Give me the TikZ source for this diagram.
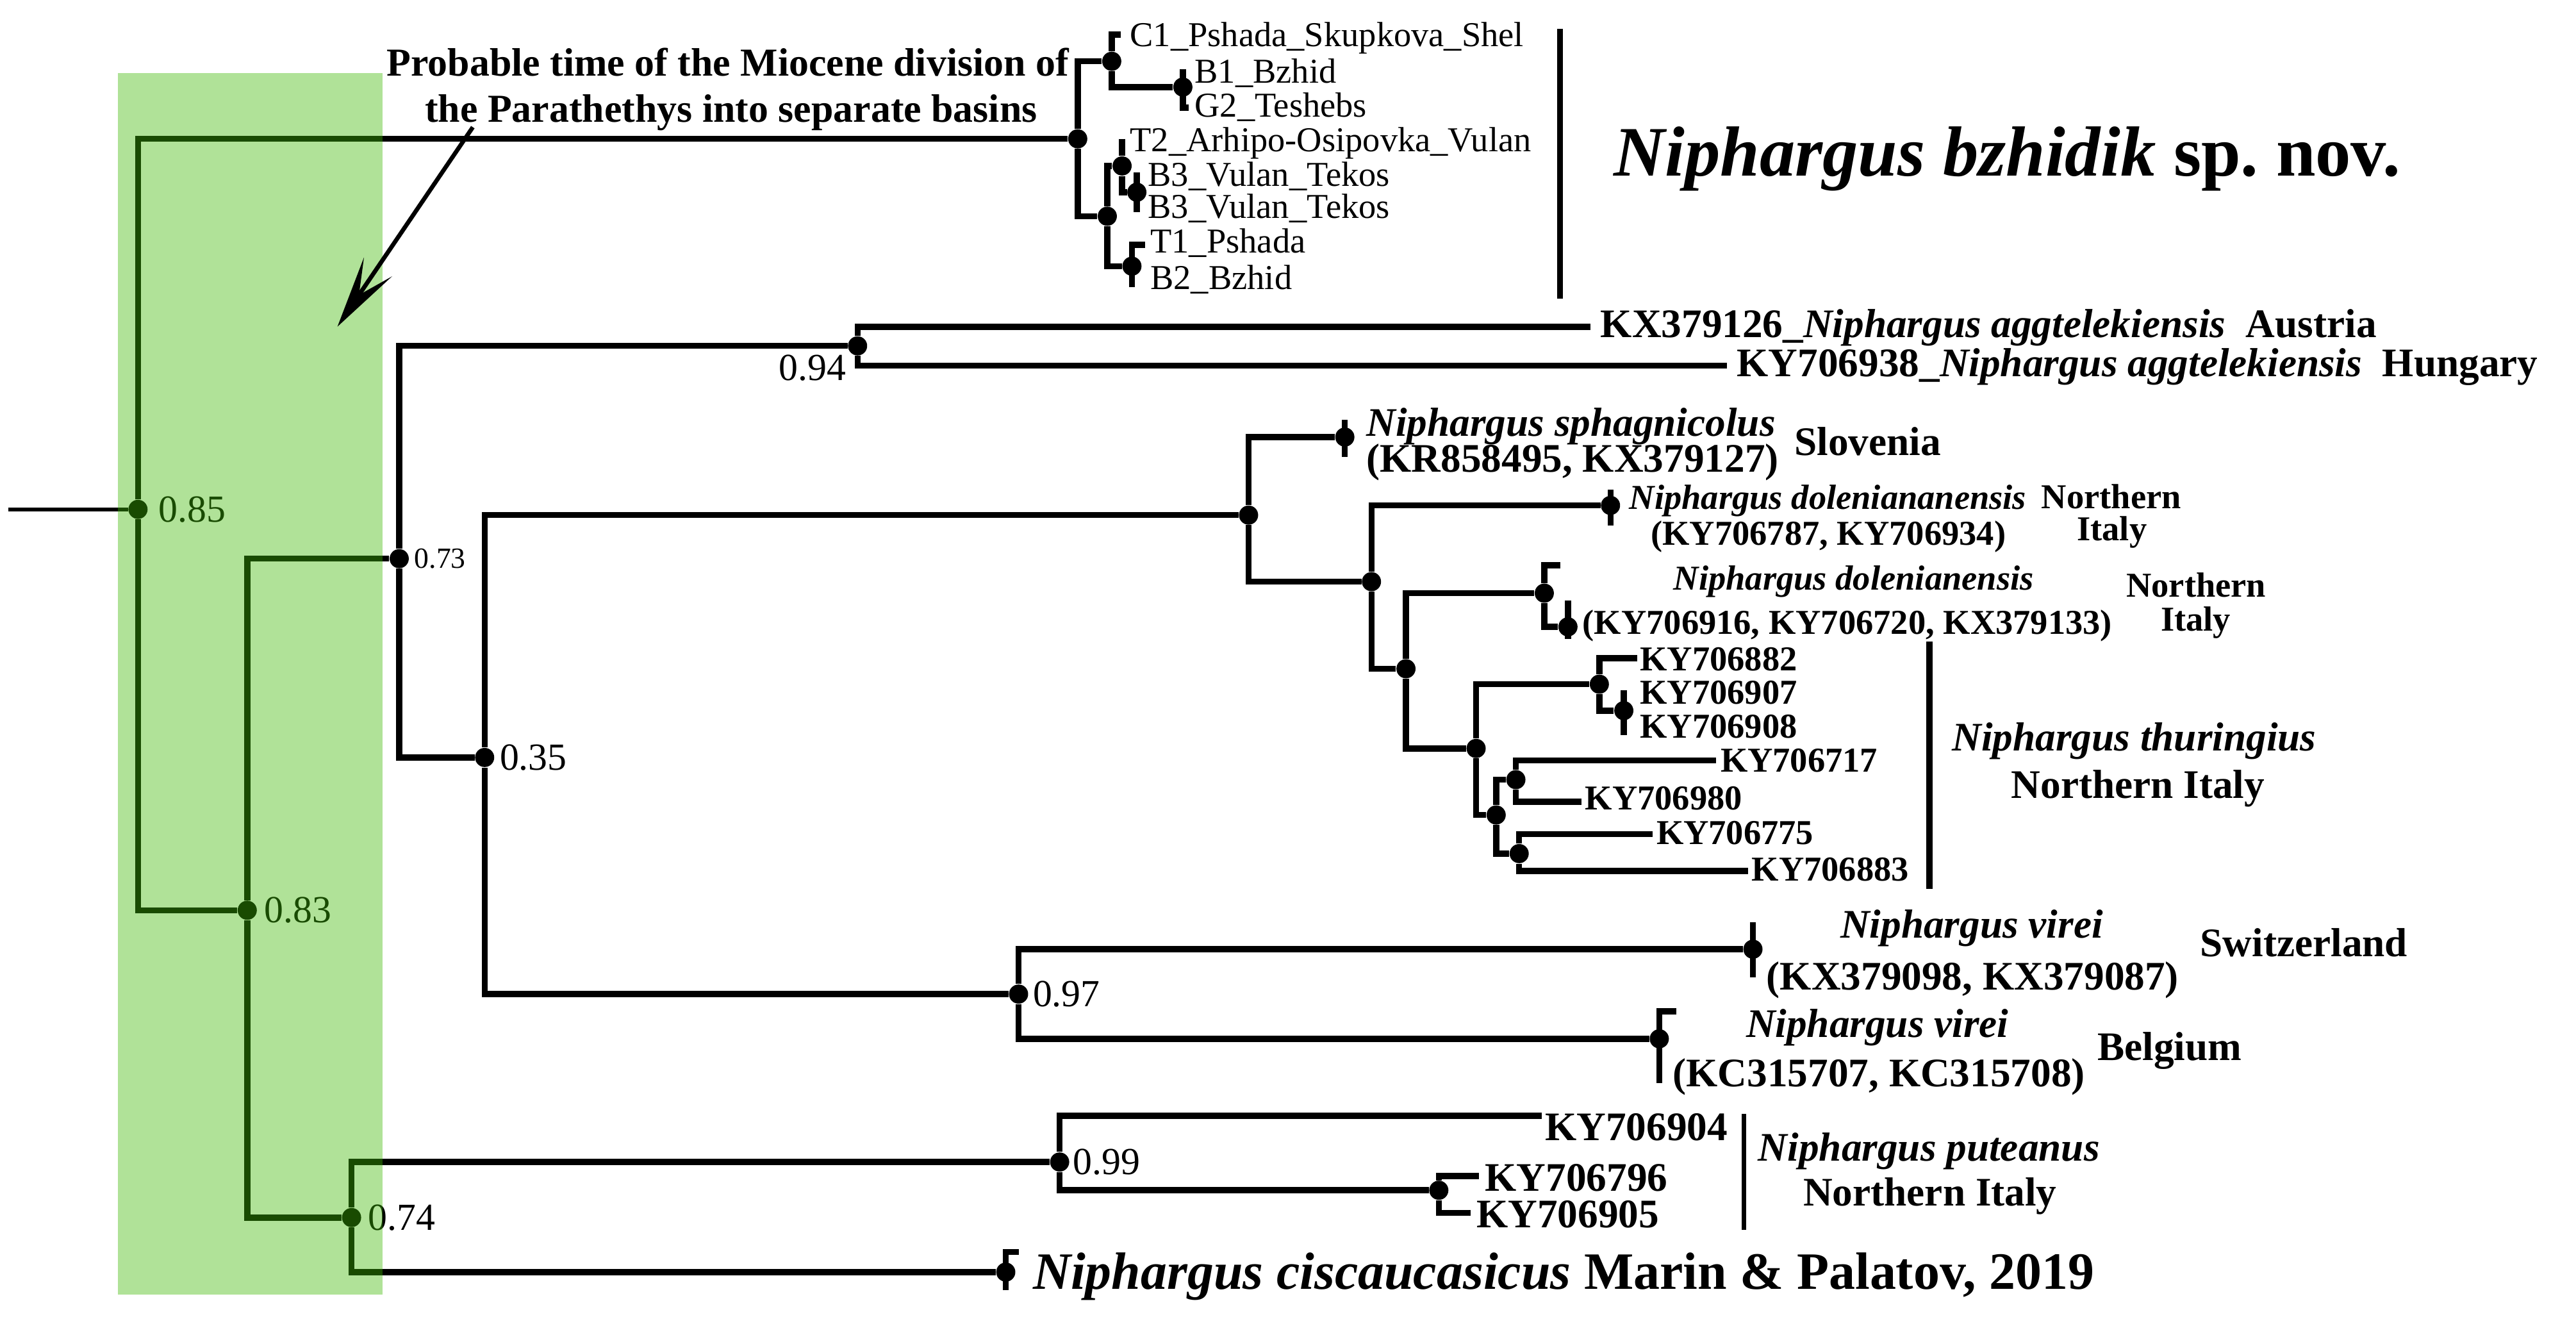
\documentclass[tikz,border=0pt]{standalone}
\usepackage{fontspec}
\setmainfont{Liberation Serif}
\usetikzlibrary{arrows.meta}
\definecolor{bandgreen}{rgb}{0.244,0.722,0.015}

\tikzset{
  branch/.style={line width=2.7pt},
  dot/.style={circle,fill,inner sep=0pt,minimum size=8.5pt},
  seqlab/.style={anchor=base west,inner sep=0pt,font=\fontsize{15.5}{18}\selectfont},
  midlab/.style={anchor=base west,inner sep=0pt,font=\fontsize{15.5}{18}\selectfont\bfseries},
  biglab/.style={anchor=base west,inner sep=0pt,font=\fontsize{18}{21}\selectfont\bfseries},
  pp/.style={anchor=west,inner sep=0pt,font=\fontsize{17}{20}\selectfont},
  notelab/.style={anchor=base,inner sep=0pt,font=\fontsize{17.6}{21}\selectfont\bfseries},
}

\begin{document}
\begin{tikzpicture}[x=0.025638cm,y=-0.025638cm]
\useasboundingbox (0,0) rectangle (1568,807);

% backbone
\coordinate (root) at (5,310);
\node[dot] (n085) at (84,310) {};
\node[dot] (n083) at (150.5,554) {};
\node[dot] (n073) at (243,340) {};
\node[dot] (n094) at (522,210.5) {};
\node[dot] (n035) at (295,461) {};
\node[dot] (n097) at (620,605) {};
\node[dot] (n074) at (214,741) {};
\node[dot] (n099) at (645,707.2) {};

% N. bzhidik
\node[dot] (bz) at (656,84.5) {};
\node[dot] (bzU) at (676.7,37.3) {};
\node[dot] (bzU2) at (720,53) {};
\node[dot] (bzL) at (674,131.6) {};
\node[dot] (bzL1) at (683,101) {};
\node[dot] (bzL3) at (692,117) {};
\node[dot] (bzL2) at (689,162) {};
\coordinate (c1) at (682,21);
\coordinate (b1) at (720,42);
\coordinate (g2) at (723.5,65.5);
\coordinate (t2) at (683,84.5);
\coordinate (b3a) at (692,105);
\coordinate (b3b) at (692,129);
\coordinate (t1) at (697,149);
\coordinate (b2) at (689,174.6);

% aggtelekiensis
\coordinate (kx126) at (968,199);
\coordinate (ky938) at (1051,222.5);

% sphagnicolus, dolenianensis, thuringius
\node[dot] (nA) at (760,313.5) {};
\node[dot] (sphag) at (818.6,266) {};
\coordinate (sphagT) at (818.6,255.6);
\coordinate (sphagB) at (818.6,278);
\node[dot] (nB) at (834.8,354) {};
\node[dot] (dolA) at (980.3,307.6) {};
\coordinate (dolAT) at (980.3,298);
\coordinate (dolAB) at (980.3,320);
\node[dot] (nC) at (855.8,407) {};
\node[dot] (dolB) at (940,361) {};
\coordinate (dolBT) at (949.6,344);
\node[dot] (dolB2) at (954.4,381.5) {};
\coordinate (dolB2T) at (954.4,365.5);
\coordinate (dolB2B) at (954.4,388.8);
\node[dot] (nD) at (898.5,455.5) {};
\node[dot] (thA) at (973.5,416.4) {};
\node[dot] (thB) at (988.4,432.5) {};
\node[dot] (thC) at (910.7,496) {};
\node[dot] (thD) at (922.7,474.5) {};
\node[dot] (thE) at (924.7,519.5) {};
\coordinate (ky882) at (996.5,400.5);
\coordinate (ky907) at (988.4,420);
\coordinate (ky908) at (988.4,447.5);
\coordinate (ky717) at (1044.5,462.8);
\coordinate (ky980) at (962.5,488);
\coordinate (ky775) at (1006,507.7);
\coordinate (ky883) at (1064,530);

% virei
\node[dot] (vireiA) at (1067,577.7) {};
\coordinate (vireiAT) at (1067,561.4);
\coordinate (vireiAB) at (1067,594.8);
\node[dot] (vireiB) at (1010,632.2) {};
\coordinate (vireiBT) at (1020.4,615.4);
\coordinate (vireiBB) at (1010,659.2);

% puteanus, ciscaucasicus
\node[dot] (putB) at (875.8,724.4) {};
\coordinate (ky904) at (938.5,679);
\coordinate (ky796) at (900.2,715.8);
\coordinate (ky905) at (895,738.1);
\node[dot] (cisc) at (612.2,774.2) {};
\coordinate (ciscT) at (620,762);
\coordinate (ciscB) at (612.2,785.3);

% branches
\draw[branch,line width=1.8pt] (root) -- (n085);
\draw[branch] (bz) -| (n085) |- (n083);
\draw[branch] (n073) -| (n083) |- (n074);
\draw[branch] (n094) -| (n073) |- (n035);
\draw[branch] (kx126) -| (n094) |- (ky938);
\draw[branch] (nA) -| (n035) |- (n097);
\draw[branch] (bzU) -| (bz) |- (bzL);
\draw[branch] (c1) -| (bzU) |- (bzU2);
\draw[branch] (b1) |- (g2);
\draw[branch] (bzL1) -| (bzL) |- (bzL2);
\draw[branch] (t2) -- (bzL1) |- (bzL3);
\draw[branch] (b3a) -- (b3b);
\draw[branch] (t1) -| (b2);
\draw[branch] (sphag) -| (nA) |- (nB);
\draw[branch] (sphagT) -- (sphagB);
\draw[branch] (dolA) -| (nB) |- (nC);
\draw[branch] (dolAT) -- (dolAB);
\draw[branch] (dolB) -| (nC) |- (nD);
\draw[branch] (dolBT) -| (dolB) |- (dolB2);
\draw[branch] (dolB2T) -- (dolB2B);
\draw[branch] (thA) -| (nD) |- (thC);
\draw[branch] (ky882) -| (thA) |- (thB);
\draw[branch] (ky907) -- (ky908);
\draw[branch] (thD) -| (thC) |- (thE);
\draw[branch] (ky717) -| (thD) |- (ky980);
\draw[branch] (ky775) -| (thE) |- (ky883);
\draw[branch] (vireiA) -| (n097) |- (vireiB);
\draw[branch] (vireiAT) -- (vireiAB);
\draw[branch] (vireiBT) -| (vireiBB);
\draw[branch] (n099) -| (n074) |- (cisc);
\draw[branch] (ky904) -| (n099) |- (putB);
\draw[branch] (ky796) -| (putB) |- (ky905);
\draw[branch] (ciscT) -| (ciscB);

% clade bars
\coordinate (bzbarT) at (949.5,17.6);
\coordinate (bzbarB) at (949.5,181.6);
\coordinate (thbarT) at (1174.5,390.5);
\coordinate (thbarB) at (1174.5,541);
\coordinate (putbarT) at (1061.5,678);
\coordinate (putbarB) at (1061.5,748.4);
\draw[branch] (bzbarT) -- (bzbarB);
\draw[branch] (thbarT) -- (thbarB);
\draw[branch,line width=2pt] (putbarT) -- (putbarB);

% support values
\node[pp] (p085) at (96.3,310) {0.85};
\node[pp] (p083) at (160.8,554) {0.83};
\node[pp,font=\fontsize{13}{15}\selectfont] (p073) at (252,340) {0.73};
\node[pp] (p035) at (304,461) {0.35};
\node[pp] (p074) at (224,741) {0.74};
\node[pp] (p094) at (474,224) {0.94};
\node[pp] (p097) at (628.5,605) {0.97};
\node[pp] (p099) at (653,707.2) {0.99};

% sequence labels, N. bzhidik
\node[seqlab] (l1) at (687.6,28.1) {C1\_Pshada\_Skupkova\_Shel};
\node[seqlab] (l2) at (727,50.6) {B1\_Bzhid};
\node[seqlab] (l3) at (727,71) {G2\_Teshebs};
\node[seqlab] (l4) at (687.6,92.2) {T2\_Arhipo-Osipovka\_Vulan};
\node[seqlab] (l5) at (698.5,113.3) {B3\_Vulan\_Tekos};
\node[seqlab] (l6) at (698.5,133) {B3\_Vulan\_Tekos};
\node[seqlab] (l7) at (700,154) {T1\_Pshada};
\node[seqlab] (l8) at (700,176) {B2\_Bzhid};
\node[anchor=base west,inner sep=0pt,font=\fontsize{31.5}{36}\selectfont\bfseries] (bzname) at (982,107) {\textit{Niphargus bzhidik} sp.\ nov.};

% other taxa
\node[biglab] (kxlab) at (974,205.5) {KX379126\_\textit{Niphargus aggtelekiensis}\ \ Austria};
\node[biglab] (kylab) at (1057,229) {KY706938\_\textit{Niphargus aggtelekiensis}\ \ Hungary};
\node[biglab] (sph1) at (831.5,265.5) {\textit{Niphargus sphagnicolus}};
\node[biglab] (sph2) at (831.5,287.2) {(KR858495, KX379127)};
\node[biglab] (sph3) at (1092,277) {Slovenia};
\node[midlab] (dA1) at (991.6,310) {\textit{Niphargus doleniananensis}};
\node[midlab] (dA2) at (1004.6,331.7) {(KY706787, KY706934)};
\node[midlab] (dA3) at (1242.4,309.6) {Northern};
\node[midlab] (dA4) at (1264,329) {Italy};
\node[midlab] (dB1) at (1018.5,359) {\textit{Niphargus dolenianensis}};
\node[midlab] (dB2) at (963,385.8) {(KY706916, KY706720, KX379133)};
\node[midlab] (dB3) at (1294,363.4) {Northern};
\node[midlab] (dB4) at (1315,384) {Italy};
\node[midlab] (t882) at (998,408) {KY706882};
\node[midlab] (t907) at (998,428.5) {KY706907};
\node[midlab] (t908) at (998,449) {KY706908};
\node[midlab] (t717) at (1047,470) {KY706717};
\node[midlab] (t980) at (964.6,493) {KY706980};
\node[midlab] (t775) at (1008,514) {KY706775};
\node[midlab] (t883) at (1066,536) {KY706883};
\node[biglab] (thu1) at (1188,457) {\textit{Niphargus thuringius}};
\node[biglab] (thu2) at (1224,486) {Northern Italy};
\node[biglab] (vA1) at (1120,571) {\textit{Niphargus virei}};
\node[biglab] (vA2) at (1075,602.4) {(KX379098, KX379087)};
\node[biglab] (vA3) at (1339,582.2) {Switzerland};
\node[biglab] (vB1) at (1062.6,631.4) {\textit{Niphargus virei}};
\node[biglab] (vB2) at (1018,661.2) {(KC315707, KC315708)};
\node[biglab] (vB3) at (1276.5,645.5) {Belgium};
\node[biglab] (u904) at (940.3,694) {KY706904};
\node[biglab] (u796) at (903.7,725) {KY706796};
\node[biglab] (u905) at (898.5,747.2) {KY706905};
\node[biglab] (pu1) at (1070,706.7) {\textit{Niphargus puteanus}};
\node[biglab] (pu2) at (1097.4,734) {Northern Italy};
\node[anchor=base west,inner sep=0pt,font=\fontsize{23.3}{27}\selectfont\bfseries] (cilab) at (628.5,784.5) {\textit{Niphargus ciscaucasicus} Marin \& Palatov, 2019};

% dating band
\fill[bandgreen,fill opacity=0.41] (71.7,44.6) rectangle (232.8,788);

% note and arrow
\node[notelab] (note1) at (443,46.2) {Probable time of the Miocene division of};
\node[notelab] (note2) at (445,74.5) {the Parathethys into separate basins};
\coordinate (arrowstart) at (287.8,77.4);
\coordinate (arrowtip) at (205.4,198.8);
\draw[-{Stealth[length=32pt,width=15pt,inset=15pt]},line width=1.9pt] (arrowstart) -- (arrowtip);
\end{tikzpicture}
\end{document}
